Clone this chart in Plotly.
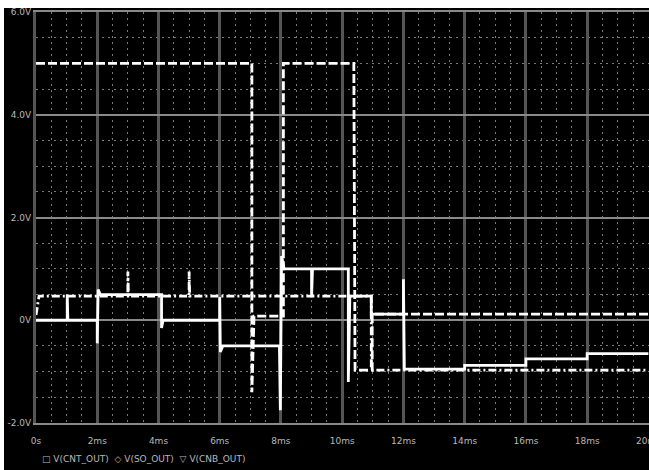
import plotly.graph_objects as go

# Time axis in ms, voltages in V
x_ticks = [0, 2, 4, 6, 8, 10, 12, 14, 16, 18, 20]
x_tick_text = ["0s", "2ms", "4ms", "6ms", "8ms", "10ms", "12ms", "14ms", "16ms", "18ms", "20ms"]
y_ticks = [-2, 0, 2, 4, 6]
y_tick_text = ["-2.0V", "0V", "2.0V", "4.0V", "6.0V"]

# Dashed trace
t_a = [0, 7.05, 7.05, 7.12, 8.08, 8.08, 10.38, 10.42, 10.98, 10.98, 20]
v_a = [5.0, 5.0, -1.4, 0.08, 0.08, 5.0, 5.0, -0.97, -0.97, 0.12, 0.12]

# Solid trace
t_b = [0, 1.02, 1.02, 1.04, 2.0, 2.0, 2.03, 2.1, 4.1, 4.1, 4.15, 6.0, 6.0, 6.02, 6.1,
       7.95, 7.98, 8.02, 8.1, 9.0, 9.0, 9.03, 10.2, 10.2, 10.25, 10.95, 10.95,
       12.0, 12.0, 12.03, 14.0, 14.0, 16.0, 16.0, 18.0, 18.0, 20]
v_b = [0.0, 0.0, 0.5, 0.0, 0.0, -0.45, 0.6, 0.5, 0.5, -0.15, 0.0, 0.0, 0.45, -0.62, -0.5,
       -0.5, -1.75, 1.25, 1.0, 1.0, 0.45, 1.0, 1.0, -1.2, 0.47, 0.47, 0.12,
       0.12, 0.8, -0.95, -0.95, -0.88, -0.88, -0.75, -0.75, -0.65, -0.65]

# Dash-dot trace
t_c = [0, 0.1, 3.0, 3.0, 3.02, 5.0, 5.0, 5.02, 10.95, 10.95, 20]
v_c = [0.1, 0.47, 0.47, 0.95, 0.47, 0.47, 0.95, 0.47, 0.47, -0.97, -0.97]

legend_text = "\u25a1 V(CNT_OUT)  \u25c7 V(SO_OUT)  \u25bd V(CNB_OUT)"

fig = go.Figure()
fig.add_trace(go.Scatter(x=t_c, y=v_c, mode="lines",
                         line=dict(color="white", width=2.8, dash="8px,3px,2px,3px")))
fig.add_trace(go.Scatter(x=t_a, y=v_a, mode="lines",
                         line=dict(color="white", width=2.8, dash="9px,3px")))
fig.add_trace(go.Scatter(x=t_b, y=v_b, mode="lines",
                         line=dict(color="white", width=2.8)))

tick_font = dict(family="DejaVu Sans", size=9, color="#b8b8b8")

fig.update_xaxes(
    range=[0, 20.02], tickvals=x_ticks, ticktext=x_tick_text, tickfont=tick_font,
    showgrid=True, gridcolor="#555555", gridwidth=3, zeroline=False,
    showline=True, linecolor="#8a8a8a", linewidth=2, mirror=True, ticks="",
    ticklabelstandoff=8, ticklabeloverflow="allow", automargin=False,
    minor=dict(dtick=0.5, showgrid=True, gridcolor="#7a7a7a", gridwidth=1, griddash="2px,4px"),
)
fig.update_yaxes(
    range=[-2, 6], tickvals=y_ticks, ticktext=y_tick_text, tickfont=tick_font,
    showgrid=True, gridcolor="#8a8a8a", gridwidth=2, zeroline=False,
    showline=True, linecolor="#555555", linewidth=3, ticks="", automargin=False,
    minor=dict(dtick=0.5, showgrid=True, gridcolor="#7a7a7a", gridwidth=1, griddash="2px,4px"),
)

# white page edge along the top and left
fig.add_shape(type="rect", xref="paper", yref="paper", x0=-36 / 613, x1=-32 / 613,
              y0=-47 / 411, y1=423 / 411, fillcolor="white", line_width=0, layer="above")
fig.add_shape(type="rect", xref="paper", yref="paper", x0=-36 / 613, x1=1.01,
              y0=415 / 411, y1=423 / 411, fillcolor="white", line_width=0, layer="above")

fig.add_annotation(text=legend_text, xref="paper", yref="paper", x=4 / 613, y=-36 / 411,
                   xanchor="left", yanchor="middle", showarrow=False,
                   font=dict(family="DejaVu Sans", size=9, color="#b8b8b8"))

fig.update_layout(width=649, height=470, margin=dict(l=36, r=0, t=12, b=47),
                  paper_bgcolor="black", plot_bgcolor="black", showlegend=False)

fig.write_html("out.html")
